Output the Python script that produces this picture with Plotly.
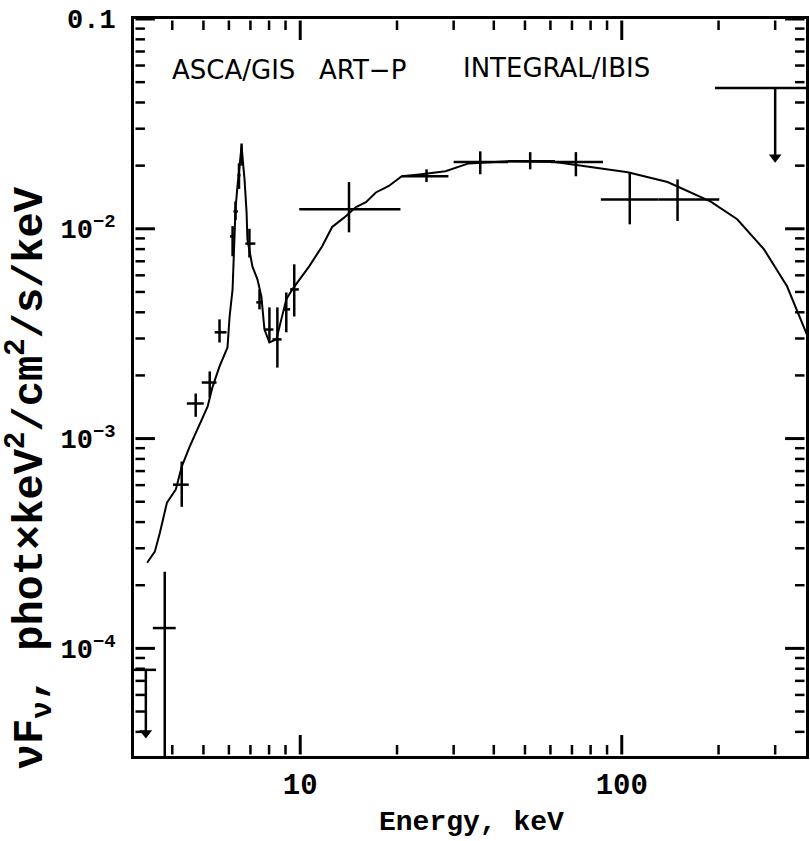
import plotly.graph_objects as go

# ---------------- data ----------------
# Model spectrum (keV, nuFnu)
model_E = [3.34, 3.53, 3.66, 3.85, 4.10, 4.28, 4.53, 4.87, 5.15, 5.34, 5.61, 5.94, 6.03, 6.16, 6.25,
           6.29, 6.38, 6.57, 6.71, 6.81, 6.85, 7.10, 7.36, 7.57, 7.74, 8.02, 8.43, 8.73, 9.05, 9.45,
           9.93, 10.66, 11.70, 12.57, 13.69, 14.91, 16.01, 17.19, 18.86, 20.69, 23.86, 28.3, 33.4,
           44.4, 62.0, 80.2, 104.4, 138.8, 188.6, 228.6, 277, 326.6, 371, 390]
model_F = [2.56e-4, 2.89e-4, 3.56e-4, 4.95e-4, 5.71e-4, 7.35e-4, 9.16e-4, 1.17e-3, 1.42e-3, 1.77e-3,
           2.21e-3, 2.72e-3, 3.82e-3, 5.14e-3, 9.2e-3, 1.24e-2, 1.60e-2, 2.48e-2, 1.72e-2, 1.20e-2,
           8.9e-3, 6.62e-3, 5.74e-3, 4.76e-3, 3.31e-3, 2.87e-3, 2.97e-3, 3.70e-3, 4.61e-3, 5.14e-3,
           5.68e-3, 6.62e-3, 8.25e-3, 1.02e-2, 1.13e-2, 1.27e-2, 1.34e-2, 1.49e-2, 1.60e-2, 1.78e-2,
           1.82e-2, 1.88e-2, 2.05e-2, 2.10e-2, 2.08e-2, 1.97e-2, 1.86e-2, 1.67e-2, 1.35e-2, 1.11e-2,
           7.98e-3, 5.32e-3, 3.31e-3, 2.75e-3]

# Measured points: ASCA/GIS, ART-P, INTEGRAL/IBIS
pt_E    = [3.79, 4.28, 4.73, 5.23, 5.61, 6.16, 6.29, 6.45, 6.57, 6.95, 7.47, 8.02, 8.49, 9.05, 9.58,
           14.18, 24.7, 36.3, 51.9, 72.0, 105.9, 149.1]
pt_Elo  = [3.48, 4.02, 4.44, 4.94, 5.42, 6.05, 6.20, 6.38, 6.50, 6.75, 7.30, 7.75, 8.20, 8.85, 9.30,
           9.93, 20.7, 30.0, 44.3, 60.2, 86.1, 130.2]
pt_Ehi  = [4.10, 4.50, 5.01, 5.49, 5.90, 6.27, 6.40, 6.52, 6.64, 7.25, 7.65, 8.25, 8.75, 9.30, 9.90,
           20.5, 28.9, 44.3, 62.0, 87.4, 130.2, 201.0]
pt_F    = [1.25e-4, 6.03e-4, 1.47e-3, 1.85e-3, 3.21e-3, 9.2e-3, 1.21e-2, 1.80e-2, 2.30e-2, 8.5e-3,
           4.46e-3, 3.31e-3, 2.97e-3, 4.13e-3, 5.14e-3, 1.24e-2, 1.78e-2, 2.08e-2, 2.10e-2, 2.08e-2,
           1.38e-2, 1.38e-2]
pt_Flo  = [1.0e-5, 4.73e-4, 1.27e-3, 1.57e-3, 2.87e-3, 7.4e-3, 1.10e-2, 1.55e-2, 2.00e-2, 7.3e-3,
           4.13e-3, 2.87e-3, 2.18e-3, 3.21e-3, 3.82e-3, 9.62e-3, 1.67e-2, 1.82e-2, 1.92e-2, 1.78e-2,
           1.05e-2, 1.09e-2]
pt_Fhi  = [2.32e-4, 7.77e-4, 1.64e-3, 2.09e-3, 3.70e-3, 1.03e-2, 1.35e-2, 2.05e-2, 2.55e-2, 1.0e-2,
           5.14e-3, 4.22e-3, 4.22e-3, 4.97e-3, 6.77e-3, 1.67e-2, 1.92e-2, 2.34e-2, 2.32e-2, 2.32e-2,
           1.86e-2, 1.72e-2]

# Upper limits
ul_E   = [3.31, 300.0]
ul_Elo = [3.0, 195.0]
ul_Ehi = [3.56, 450.0]
ul_F   = [7.9e-5, 4.69e-2]
ul_tip = [3.95e-5, 2.19e-2]

# Axis ticks
x_tickvals = [10, 100]
x_ticktext = ["10", "100"]
y_tickvals = [1e-1, 1e-2, 1e-3, 1e-4]
y_ticktext = ["0.1", "10<sup>−2</sup>", "10<sup>−3</sup>", "10<sup>−4</sup>"]
x_minor = [4, 5, 6, 7, 8, 9, 20, 30, 40, 50, 60, 70, 80, 90, 200, 300]
y_minor = [m * 10.0 ** p for p in (-5, -4, -3, -2) for m in range(2, 10)]

X_RANGE = [0.483, 2.573]
Y_RANGE = [-4.513, -1.0]

W, H = 810, 841
M_L, M_R, M_T, M_B = 134, 1, 19, 85
PLOT_W = W - M_L - M_R
PLOT_H = H - M_T - M_B

# ---------------- figure ----------------
fig = go.Figure()

fig.add_trace(go.Scatter(x=model_E, y=model_F, mode="lines",
                         line=dict(color="black", width=2), hoverinfo="skip"))

fig.add_trace(go.Scatter(
    x=pt_E, y=pt_F, mode="markers", marker=dict(size=1, color="black", opacity=0),
    error_x=dict(type="data", symmetric=False,
                 array=[h - e for h, e in zip(pt_Ehi, pt_E)],
                 arrayminus=[e - l for e, l in zip(pt_E, pt_Elo)],
                 width=0, thickness=2.5, color="black"),
    error_y=dict(type="data", symmetric=False,
                 array=[h - f for h, f in zip(pt_Fhi, pt_F)],
                 arrayminus=[f - l for f, l in zip(pt_F, pt_Flo)],
                 width=0, thickness=2.5, color="black"),
))

# upper limits: horizontal bar
fig.add_trace(go.Scatter(
    x=ul_E, y=ul_F, mode="markers", marker=dict(size=1, color="black", opacity=0),
    error_x=dict(type="data", symmetric=False,
                 array=[h - e for h, e in zip(ul_Ehi, ul_E)],
                 arrayminus=[e - l for e, l in zip(ul_E, ul_Elo)],
                 width=0, thickness=2.5, color="black"),
))
# upper limits: vertical arrow shafts
ax, ay = [], []
for e, f, t in zip(ul_E, ul_F, ul_tip):
    ax += [e, e, None]
    ay += [f, t, None]
fig.add_trace(go.Scatter(x=ax, y=ay, mode="lines", line=dict(color="black", width=2.5)))
fig.add_trace(go.Scatter(x=ul_E, y=ul_tip, mode="markers",
                         marker=dict(symbol="triangle-down", size=11, color="black")))

# ---- inward frame tick marks on all four sides, as short line segments that start
#      just inside the frame ----
px_per_dec_x = PLOT_W / (X_RANGE[1] - X_RANGE[0])
px_per_dec_y = PLOT_H / (Y_RANGE[1] - Y_RANGE[0])
x_lo, x_hi = 10 ** X_RANGE[0], 10 ** X_RANGE[1]
y_lo, y_hi = 10 ** Y_RANGE[0], 10 ** Y_RANGE[1]
START_PX = 1.5


def frame_ticks(xvals, yvals, length_px, width):
    fx0 = 10 ** (START_PX / px_per_dec_x)
    fy0 = 10 ** (START_PX / px_per_dec_y)
    fx = 10 ** (length_px / px_per_dec_x)
    fy = 10 ** (length_px / px_per_dec_y)
    tx, ty = [], []
    for v in xvals:
        tx += [v, v, None, v, v, None]
        ty += [y_lo * fy0, y_lo * fy, None, y_hi / fy0, y_hi / fy, None]
    for v in yvals:
        if y_lo < v < y_hi * 1.0001:
            tx += [x_lo * fx0, x_lo * fx, None, x_hi / fx0, x_hi / fx, None]
            ty += [v, v, None, v, v, None]
    return go.Scatter(x=tx, y=ty, mode="lines", hoverinfo="skip",
                      line=dict(color="black", width=width))


fig.add_trace(frame_ticks(x_tickvals, y_tickvals, 21, 3))
fig.add_trace(frame_ticks(x_minor, y_minor, 11, 2.5))

fig.update_layout(
    xaxis=dict(
        type="log", range=X_RANGE, showgrid=False, zeroline=False,
        showline=True, linewidth=3, linecolor="black", mirror=True,
        ticks="", tickmode="array", tickvals=x_tickvals, ticktext=x_ticktext,
        tickfont=dict(family="Liberation Mono", size=29, color="black", weight="bold"),
    ),
    yaxis=dict(
        type="log", range=Y_RANGE, showgrid=False, zeroline=False,
        showline=True, linewidth=3, linecolor="black", mirror=True,
        ticks="", tickmode="array", tickvals=y_tickvals, ticktext=y_ticktext,
        ticklabelstandoff=10,
        tickfont=dict(family="Liberation Mono", size=27, color="black", weight="bold"),
    ),
)

ann_font = dict(family="DejaVu Sans", size=26, color="black")
annotations = [
    dict(text="ASCA/GIS", x=0.0533, y=0.931, xref="paper", yref="paper",
         xanchor="left", yanchor="middle", showarrow=False, font=ann_font),
    dict(text="ART−P", x=0.2726, y=0.931, xref="paper", yref="paper",
         xanchor="left", yanchor="middle", showarrow=False, font=ann_font),
    dict(text="INTEGRAL/IBIS", x=0.487, y=0.933, xref="paper", yref="paper",
         xanchor="left", yanchor="middle", showarrow=False, font=ann_font),
    dict(text="Energy, keV", x=0.502, y=-0.0896, xref="paper", yref="paper",
         xanchor="center", yanchor="middle", showarrow=False,
         font=dict(family="Liberation Mono", size=28, color="black", weight="bold")),
    dict(text="νF<sub>ν</sub>, phot×keV<sup>2</sup>/cm<sup>2</sup>/s/keV",
         x=-0.155, y=0.378, xref="paper", yref="paper", textangle=-90,
         xanchor="center", yanchor="middle", showarrow=False,
         font=dict(family="Liberation Mono", size=42, color="black", weight="bold")),
]

fig.update_layout(
    width=W, height=H, margin=dict(l=M_L, r=M_R, t=M_T, b=M_B),
    paper_bgcolor="white", plot_bgcolor="white", showlegend=False,
    annotations=annotations,
)

fig.write_html("out.html")
